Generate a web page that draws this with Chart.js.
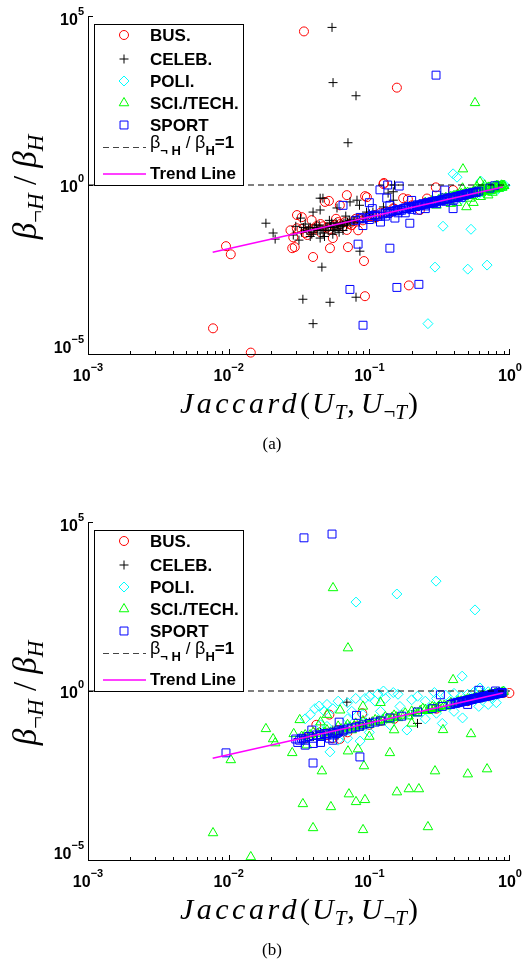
<!DOCTYPE html>
<html>
<head>
<meta charset="utf-8">
<script src="https://cdn.jsdelivr.net/npm/chart.js@4/dist/chart.umd.min.js"></script>
<style>
html, body { margin: 0; padding: 0; background: #fff; }
#wrap { position: relative; width: 528px; height: 967px; }
canvas { position: absolute; left: 0; }
#chart-a { top: 0; }
#chart-b { top: 506px; }
</style>
</head>
<body>
<div id="wrap">
  <canvas id="chart-a" width="528" height="461"></canvas>
  <canvas id="chart-b" width="528" height="461"></canvas>
</div>
<script>
// axes
const xTicks = [1e-3, 1e-2, 1e-1, 1]
const xTickExp = ["\u22123", "\u22122", "\u22121", "0"]
const yTicks = [1e-5, 1, 1e5]
const yTickExp = ["\u22125", "0", "5"]

const seriesNames = ["BUS.", "CELEB.", "POLI.", "SCI./TECH.", "SPORT"]
const seriesColors = ["#ff0000", "#000000", "#00ffff", "#00ff00", "#0000ff"]
const markerStyles = ["circle", "cross", "rectRot", "triangle", "rect"]
const markerRadius = [4.5, 4.5, 5, 5.5, 5.6]

// trend line and reference line
const trendX = [0.0077, 0.89]
const trendY = [0.0102, 0.87]
const refY = 1

// (a) points [jaccard, ratio]
const busA = [
    [0.0343, 3.5e4], [0.157, 759], [0.127, 1.15], [0.00957, 0.0155], [0.01035, 0.0089], [0.00774, 5.75e-5],
    [0.01436, 1.1e-5], [0.0283, 0.0135], [0.0398, 0.00741], [0.0525, 0.0135], [0.0705, 0.0145], [0.0916, 0.00562],
    [0.0931, 0.000513], [0.191, 0.00107], [0.0306, 0.129], [0.0692, 0.501], [0.0933, 0.468], [0.126, 1.07],
    [0.0617, 0.251], [0.0484, 0.316], [0.297, 0.851], [0.174, 0.407], [0.0389, 0.0912], [0.0275, 0.0457],
    [0.0288, 0.0282], [0.0363, 0.0331], [0.055, 0.0269], [0.0692, 0.0468], [0.0832, 0.0457], [0.112, 0.112],
    [0.148, 0.204], [0.229, 0.182], [0.257, 0.398], [0.394, 0.708], [0.0961, 0.437], [0.0516, 0.339],
    [0.0331, 0.112], [0.0295, 0.0145], [0.188, 0.38], [0.0305, 0.0525], [0.04, 0.05], [0.045, 0.07],
    [0.05, 0.055], [0.06, 0.08], [0.065, 0.06], [0.08, 0.1], [0.1, 0.12], [0.12, 0.15], [0.15, 0.2],
    [0.2, 0.25], [0.25, 0.3], [0.35, 0.4], [0.045, 0.04], [0.058, 0.1], [0.035, 0.038], [0.075, 0.065],
    [0.033, 0.05], [0.038, 0.045], [0.042, 0.06], [0.047, 0.06], [0.052, 0.05], [0.057, 0.065], [0.062, 0.07],
    [0.067, 0.08], [0.072, 0.07], [0.077, 0.085], [0.085, 0.1], [0.09, 0.09], [0.095, 0.11], [0.105, 0.12],
    [0.11, 0.13], [0.13, 0.16], [0.14, 0.15], [0.16, 0.18], [0.18, 0.21], [0.22, 0.24], [0.27, 0.3], [0.3, 0.33]
]
const celebA = [
    [0.0543, 4.6e4], [0.0552, 1070], [0.0804, 437], [0.0705, 17.8], [0.0184, 0.0741], [0.0207, 0.038],
    [0.0214, 0.0251], [0.046, 0.00372], [0.0337, 0.000417], [0.0525, 0.000339], [0.0398, 7.9e-5],
    [0.0804, 0.000479], [0.0857, 0.011], [0.0468, 0.407], [0.0817, 0.355], [0.0589, 0.209], [0.0447, 0.182],
    [0.148, 0.631], [0.151, 1.0], [0.136, 0.575], [0.0447, 0.407], [0.0729, 0.316], [0.0851, 0.251],
    [0.0398, 0.158], [0.0324, 0.105], [0.0955, 0.158], [0.038, 0.0562], [0.0447, 0.0457], [0.0288, 0.0331],
    [0.0316, 0.0234], [0.0447, 0.0269], [0.055, 0.0468], [0.0646, 0.0646], [0.0766, 0.0912], [0.106, 0.158],
    [0.126, 0.224], [0.148, 0.355], [0.035, 0.07], [0.04, 0.04], [0.05, 0.06], [0.055, 0.035], [0.06, 0.05],
    [0.07, 0.08], [0.042, 0.065], [0.036, 0.045], [0.048, 0.03], [0.065, 0.045], [0.09, 0.1], [0.1, 0.14],
    [0.03, 0.06], [0.058, 0.075], [0.068, 0.12], [0.052, 0.09], [0.11, 0.1],
    [0.033, 0.04], [0.037, 0.05], [0.039, 0.035], [0.041, 0.055], [0.043, 0.045], [0.046, 0.05], [0.047, 0.038],
    [0.049, 0.055], [0.051, 0.045], [0.053, 0.06], [0.056, 0.055], [0.057, 0.045], [0.059, 0.065], [0.062, 0.06],
    [0.063, 0.07], [0.066, 0.075], [0.069, 0.065], [0.072, 0.09], [0.074, 0.075], [0.078, 0.085], [0.082, 0.095],
    [0.085, 0.08], [0.034, 0.055], [0.038, 0.03], [0.044, 0.065], [0.054, 0.075], [0.061, 0.04]
]
const poliA = [
    [0.394, 2.14], [0.334, 0.0603], [0.528, 0.049], [0.293, 0.00372], [0.501, 0.00324], [0.687, 0.00427],
    [0.261, 7.9e-5], [0.85, 0.95], [0.8, 0.85], [0.9, 0.9], [0.75, 0.72], [0.7, 0.8], [0.6, 0.55],
    [0.55, 0.62], [0.65, 0.6], [0.82, 0.75], [0.88, 1.0], [0.5, 0.5], [0.45, 0.38], [0.42, 1.7],
    [0.62, 1.3], [0.78, 0.95], [0.72, 0.68], [0.92, 0.97]
]
const sciA = [
    [0.564, 269], [0.463, 2.95], [0.612, 1.23], [0.25, 0.3], [0.28, 0.35], [0.3, 0.32], [0.32, 0.38],
    [0.35, 0.42], [0.36, 0.33], [0.38, 0.45], [0.4, 0.4], [0.42, 0.5], [0.44, 0.47], [0.45, 0.55],
    [0.47, 0.45], [0.48, 0.6], [0.5, 0.52], [0.52, 0.58], [0.53, 0.48], [0.55, 0.65], [0.57, 0.56],
    [0.58, 0.7], [0.6, 0.62], [0.62, 0.58], [0.63, 0.75], [0.65, 0.68], [0.67, 0.64], [0.68, 0.8],
    [0.7, 0.72], [0.72, 0.85], [0.73, 0.68], [0.75, 0.78], [0.77, 0.9], [0.78, 0.74], [0.8, 0.82],
    [0.82, 0.95], [0.83, 0.78], [0.85, 0.88], [0.87, 0.98], [0.88, 0.84], [0.9, 0.93], [0.49, 0.224],
    [0.55, 0.3], [0.62, 0.45], [0.7, 0.5], [0.46, 0.8], [0.58, 0.9], [0.66, 0.98], [0.42, 0.3],
    [0.38, 0.28], [0.3, 0.25], [0.52, 0.4], [0.75, 0.6],
    [0.31, 0.36], [0.33, 0.4], [0.37, 0.43], [0.39, 0.44], [0.41, 0.47], [0.43, 0.49], [0.46, 0.52],
    [0.49, 0.55], [0.51, 0.54], [0.54, 0.6], [0.56, 0.62], [0.59, 0.65], [0.61, 0.66], [0.64, 0.7],
    [0.66, 0.72], [0.69, 0.75], [0.71, 0.76], [0.74, 0.8], [0.76, 0.82], [0.79, 0.86], [0.81, 0.86],
    [0.84, 0.9], [0.86, 0.92], [0.89, 0.96], [0.91, 0.95], [0.6, 0.7], [0.7, 0.85], [0.8, 0.95],
    [0.5, 0.6], [0.4, 0.48]
]
const sportA = [
    [0.298, 1780], [0.135, 1.0], [0.0832, 0.0178], [0.14, 0.0135], [0.0728, 0.000813], [0.157, 0.000933],
    [0.225, 0.00115], [0.0902, 7.1e-5], [0.08, 0.09], [0.09, 0.1], [0.1, 0.11], [0.11, 0.13], [0.12, 0.12],
    [0.13, 0.15], [0.14, 0.16], [0.15, 0.17], [0.16, 0.19], [0.17, 0.18], [0.18, 0.21], [0.19, 0.23],
    [0.2, 0.22], [0.21, 0.24], [0.22, 0.26], [0.23, 0.25], [0.24, 0.28], [0.25, 0.27], [0.26, 0.3],
    [0.27, 0.29], [0.28, 0.32], [0.29, 0.31], [0.3, 0.34], [0.32, 0.35], [0.33, 0.37], [0.35, 0.38],
    [0.37, 0.4], [0.38, 0.42], [0.4, 0.43], [0.42, 0.46], [0.44, 0.48], [0.46, 0.5], [0.48, 0.52],
    [0.5, 0.55], [0.52, 0.57], [0.55, 0.6], [0.58, 0.63], [0.6, 0.66], [0.78, 0.95], [0.119, 0.72],
    [0.163, 0.93], [0.133, 0.41], [0.344, 0.71], [0.086, 0.11], [0.194, 0.074], [0.152, 0.105],
    [0.394, 0.2], [0.105, 0.2], [0.14, 0.25], [0.2, 0.35], [0.25, 0.2], [0.3, 0.5], [0.12, 0.08],
    [0.18, 0.15], [0.09, 0.063], [0.22, 0.18], [0.065, 0.25], [0.1, 0.3], [0.72, 0.81],
    [0.105, 0.125], [0.115, 0.118], [0.125, 0.14], [0.135, 0.145], [0.145, 0.165], [0.155, 0.175],
    [0.165, 0.18], [0.175, 0.2], [0.185, 0.2], [0.195, 0.215], [0.205, 0.23], [0.215, 0.23], [0.225, 0.25],
    [0.235, 0.26], [0.245, 0.27], [0.255, 0.29], [0.265, 0.28], [0.275, 0.31], [0.285, 0.3], [0.295, 0.33],
    [0.31, 0.34], [0.325, 0.34], [0.34, 0.37], [0.36, 0.39], [0.39, 0.42], [0.41, 0.44], [0.43, 0.45],
    [0.45, 0.49], [0.47, 0.5], [0.49, 0.53], [0.51, 0.55], [0.54, 0.58], [0.57, 0.6], [0.1, 0.095],
    [0.13, 0.12], [0.16, 0.15], [0.2, 0.19], [0.25, 0.24], [0.3, 0.28], [0.35, 0.33], [0.4, 0.38], [0.45, 0.43]
]

// (b) points
const busB = [
    [0.089, 0.22], [0.0617, 0.038], [0.99, 0.87], [0.05, 0.05], [0.06, 0.07], [0.07, 0.06], [0.08, 0.09],
    [0.1, 0.1], [0.12, 0.13], [0.045, 0.05], [0.055, 0.04], [0.035, 0.04], [0.15, 0.15], [0.3, 0.3],
    [0.5, 0.5], [0.7, 0.7], [0.9, 0.88], [0.042, 0.1], [0.052, 0.2]
]
const celebB = [
    [0.0692, 0.468], [0.05, 0.06], [0.06, 0.05], [0.07, 0.08], [0.04, 0.045], [0.08, 0.08], [0.1, 0.12],
    [0.2, 0.2], [0.055, 0.07], [0.045, 0.06], [0.035, 0.04], [0.09, 0.09], [0.22, 0.11]
]
const poliB = [
    [0.0804, 427], [0.157, 741], [0.298, 1780], [0.564, 251], [0.457, 2.75], [0.612, 1.23], [0.126, 1.0],
    [0.148, 0.9], [0.115, 0.82], [0.093, 0.6], [0.044, 0.36], [0.048, 0.25], [0.041, 0.3], [0.0525, 0.0158],
    [0.086, 0.033], [0.185, 0.07], [0.33, 0.11], [0.46, 0.16], [0.8, 0.45], [0.6, 1.0], [0.29, 0.9],
    [0.165, 0.35], [0.194, 0.2], [0.035, 0.15], [0.038, 0.2], [0.05, 0.4], [0.055, 0.3], [0.06, 0.5],
    [0.07, 0.45], [0.075, 0.25], [0.08, 0.6], [0.1, 0.7], [0.11, 0.5], [0.13, 0.6], [0.16, 0.8],
    [0.2, 0.55], [0.22, 0.7], [0.25, 0.5], [0.3, 0.6], [0.35, 0.75], [0.4, 0.85], [0.45, 0.7], [0.5, 0.8],
    [0.55, 0.9], [0.65, 0.85], [0.7, 0.95], [0.75, 0.6], [0.85, 0.9], [0.9, 1.0], [0.05, 0.09],
    [0.06, 0.035], [0.07, 0.04], [0.1, 0.06], [0.14, 0.1], [0.25, 0.15], [0.4, 0.25], [0.6, 0.35],
    [0.7, 0.4], [0.045, 0.1], [0.09, 0.2], [0.12, 0.25], [0.07, 0.15], [0.3, 0.22]
]
const sciB = [
    [0.0552, 1120], [0.0705, 18.6], [0.394, 2.14], [0.0184, 0.0759], [0.0207, 0.038], [0.0214, 0.0288],
    [0.01035, 0.00912], [0.00774, 6.3e-5], [0.01436, 1.23e-5], [0.0283, 0.0148], [0.0705, 0.0166],
    [0.0916, 0.00603], [0.0931, 0.000603], [0.191, 0.00126], [0.046, 0.00427], [0.0337, 0.000457],
    [0.0533, 0.000372], [0.0398, 8.9e-5], [0.0804, 0.000525], [0.083, 0.0191], [0.14, 0.0148],
    [0.0716, 0.000891], [0.157, 0.00102], [0.225, 0.00126], [0.0902, 7.8e-5], [0.334, 0.0708],
    [0.528, 0.0537], [0.293, 0.00427], [0.501, 0.00347], [0.687, 0.0049], [0.261, 9.5e-5],
    [0.032, 0.14], [0.029, 0.054], [0.035, 0.05], [0.04, 0.06], [0.045, 0.045], [0.05, 0.07], [0.055, 0.05],
    [0.06, 0.09], [0.065, 0.065], [0.07, 0.1], [0.075, 0.07], [0.08, 0.11], [0.085, 0.085], [0.09, 0.13],
    [0.1, 0.1], [0.11, 0.14], [0.12, 0.12], [0.13, 0.17], [0.14, 0.14], [0.15, 0.19], [0.16, 0.16],
    [0.18, 0.22], [0.19, 0.18], [0.2, 0.25], [0.22, 0.22], [0.24, 0.3], [0.26, 0.26], [0.28, 0.34],
    [0.3, 0.3], [0.32, 0.38], [0.35, 0.35], [0.38, 0.45], [0.4, 0.4], [0.43, 0.5], [0.46, 0.45],
    [0.5, 0.58], [0.53, 0.52], [0.56, 0.64], [0.6, 0.58], [0.64, 0.7], [0.68, 0.65], [0.72, 0.8],
    [0.76, 0.74], [0.8, 0.88], [0.85, 0.82], [0.9, 0.95], [0.05, 0.2], [0.062, 0.27], [0.09, 0.35],
    [0.12, 0.45], [0.1, 0.045], [0.15, 0.07], [0.2, 0.11], [0.036, 0.025], [0.045, 0.12],
    [0.033, 0.045], [0.038, 0.05], [0.043, 0.055], [0.048, 0.06], [0.053, 0.06], [0.058, 0.07],
    [0.063, 0.075], [0.068, 0.08], [0.073, 0.085], [0.078, 0.09], [0.088, 0.1], [0.095, 0.11],
    [0.105, 0.12], [0.115, 0.13], [0.125, 0.14], [0.135, 0.15], [0.145, 0.165], [0.155, 0.17],
    [0.17, 0.19], [0.21, 0.23], [0.23, 0.26], [0.25, 0.28], [0.27, 0.3], [0.29, 0.32], [0.31, 0.34],
    [0.34, 0.37], [0.37, 0.4], [0.42, 0.46], [0.45, 0.5], [0.48, 0.53], [0.52, 0.56], [0.55, 0.6],
    [0.58, 0.63], [0.62, 0.67], [0.66, 0.72], [0.7, 0.75], [0.74, 0.8], [0.78, 0.84], [0.83, 0.88], [0.88, 0.92]
]
const sportB = [
    [0.0343, 3.4e4], [0.0543, 4.4e4], [0.00957, 0.0148], [0.0398, 0.00741], [0.0857, 0.0112], [0.061, 0.12],
    [0.081, 0.19], [0.039, 0.07], [0.32, 0.77], [0.5, 0.4], [0.6, 1.05], [0.79, 1.0], [0.03, 0.038],
    [0.031, 0.03], [0.033, 0.04], [0.035, 0.035], [0.037, 0.045], [0.04, 0.04], [0.042, 0.05],
    [0.045, 0.045], [0.048, 0.055], [0.05, 0.05], [0.052, 0.04], [0.055, 0.06], [0.058, 0.055],
    [0.06, 0.065], [0.065, 0.07], [0.07, 0.075], [0.075, 0.08], [0.08, 0.085], [0.085, 0.09], [0.09, 0.1],
    [0.1, 0.11], [0.11, 0.12], [0.12, 0.13], [0.14, 0.16], [0.17, 0.18], [0.22, 0.24], [0.28, 0.3],
    [0.33, 0.35], [0.38, 0.4],
    [0.4, 0.44], [0.42, 0.45], [0.45, 0.48], [0.48, 0.5], [0.5, 0.53], [0.53, 0.56], [0.56, 0.6],
    [0.6, 0.62], [0.63, 0.66], [0.66, 0.7], [0.7, 0.72], [0.73, 0.76], [0.76, 0.8], [0.8, 0.82],
    [0.83, 0.86], [0.86, 0.88], [0.045, 0.03], [0.055, 0.035], [0.035, 0.025], [0.04, 0.028],
    [0.41, 0.43], [0.43, 0.46], [0.44, 0.47], [0.46, 0.49], [0.47, 0.5], [0.49, 0.52], [0.51, 0.54],
    [0.52, 0.55], [0.54, 0.57], [0.55, 0.59], [0.57, 0.6], [0.58, 0.61], [0.59, 0.63], [0.61, 0.64],
    [0.62, 0.66], [0.64, 0.67], [0.65, 0.69], [0.67, 0.7], [0.68, 0.71], [0.69, 0.73], [0.71, 0.74],
    [0.72, 0.75], [0.74, 0.78], [0.75, 0.78], [0.77, 0.8], [0.78, 0.82], [0.79, 0.82], [0.81, 0.84],
    [0.82, 0.85], [0.84, 0.87], [0.85, 0.87], [0.87, 0.9], [0.88, 0.9], [0.045, 0.05], [0.05, 0.055],
    [0.055, 0.05], [0.06, 0.06], [0.065, 0.065], [0.032, 0.035], [0.034, 0.038]
]

const SANS = '"Liberation Sans", Arial, sans-serif'
const SERIF = '"Liberation Serif", "Times New Roman", serif'

function drawRich(ctx, parts, x, y, align) {
    let w = 0
    for (const p of parts) {
        ctx.font = p.font
        ctx.letterSpacing = p.ls || "0px"
        w += ctx.measureText(p.text).width
    }
    let cx = align === "center" ? x - w / 2 : align === "right" ? x - w : x
    for (const p of parts) {
        ctx.font = p.font
        ctx.letterSpacing = p.ls || "0px"
        ctx.fillText(p.text, cx, y + (p.dy || 0))
        cx += ctx.measureText(p.text).width
    }
    ctx.letterSpacing = "0px"
}

function drawMarker(ctx, style, x, y, r, color) {
    ctx.save()
    ctx.strokeStyle = color
    ctx.lineWidth = 1
    ctx.beginPath()
    if (style === "circle") {
        ctx.arc(x, y, r, 0, Math.PI * 2)
    } else if (style === "cross") {
        ctx.moveTo(x, y - r); ctx.lineTo(x, y + r)
        ctx.moveTo(x - r, y); ctx.lineTo(x + r, y)
    } else if (style === "rectRot") {
        ctx.moveTo(x, y - r); ctx.lineTo(x + r, y); ctx.lineTo(x, y + r); ctx.lineTo(x - r, y); ctx.closePath()
    } else if (style === "triangle") {
        for (let k = 0; k < 3; k++) {
            const a = k * 2 * Math.PI / 3
            const px = x + Math.sin(a) * r, py = y - Math.cos(a) * r
            if (k === 0) ctx.moveTo(px, py); else ctx.lineTo(px, py)
        }
        ctx.closePath()
    } else {
        const s = Math.SQRT1_2 * r
        ctx.rect(x - s, y - s, 2 * s, 2 * s)
    }
    ctx.stroke()
    ctx.restore()
}

function decorPlugin(caption) {
    return {
        id: "decor",
        afterDraw(chart) {
            const ctx = chart.ctx
            const ca = chart.chartArea
            const xs = chart.scales.x
            const ys = chart.scales.y
            ctx.save()
            ctx.strokeStyle = "#000"
            ctx.fillStyle = "#000"
            ctx.lineWidth = 1

            // axes lines
            ctx.beginPath()
            ctx.moveTo(ca.left + 0.5, ca.top)
            ctx.lineTo(ca.left + 0.5, ca.bottom + 0.5)
            ctx.lineTo(ca.right, ca.bottom + 0.5)
            ctx.stroke()

            // x ticks (major + minor)
            ctx.beginPath()
            for (let d = -3; d < 0; d++) {
                for (let m = 1; m <= 9; m++) {
                    const px = Math.round(xs.getPixelForValue(m * Math.pow(10, d))) + 0.5
                    const len = m === 1 ? 5 : 3
                    ctx.moveTo(px, ca.bottom)
                    ctx.lineTo(px, ca.bottom - len)
                }
            }
            const pxEnd = Math.round(xs.getPixelForValue(1)) - 0.5
            ctx.moveTo(pxEnd, ca.bottom)
            ctx.lineTo(pxEnd, ca.bottom - 5)
            // y ticks
            for (const v of yTicks) {
                const py = Math.round(ys.getPixelForValue(v)) + 0.5
                ctx.moveTo(ca.left, py)
                ctx.lineTo(ca.left + 5, py)
            }
            ctx.stroke()

            // tick labels
            ctx.textBaseline = "alphabetic"
            xTicks.forEach((v, i) => {
                const px = xs.getPixelForValue(v)
                drawRich(ctx, [
                    { text: "10", font: "bold 16px " + SANS },
                    { text: xTickExp[i], font: "bold 11px " + SANS, dy: -10 }
                ], px, ca.bottom + 27, "center")
            })
            const yOff = [-1, 6.5, 9]
            yTicks.forEach((v, i) => {
                const py = ys.getPixelForValue(v)
                drawRich(ctx, [
                    { text: "10", font: "bold 16px " + SANS },
                    { text: yTickExp[i], font: "bold 11px " + SANS, dy: -10 }
                ], ca.left - 4, py + yOff[i], "right")
            })

            // x title
            const big = "italic 30px " + SERIF
            const bigUp = "30px " + SERIF
            const sub = "italic 21px " + SERIF
            const subUp = "21px " + SERIF
            drawRich(ctx, [
                { text: "Jaccard", font: big, ls: "3.5px" },
                { text: "(", font: bigUp, ls: "2px" },
                { text: "U", font: big, ls: "1px" },
                { text: "T", font: sub, dy: 6, ls: "1px" },
                { text: ",", font: bigUp, ls: "6px" },
                { text: "U", font: big, ls: "1px" },
                { text: "\u00ac", font: subUp, dy: 6 },
                { text: "T", font: sub, dy: 6, ls: "1px" },
                { text: ")", font: bigUp }
            ], (ca.left + ca.right) / 2, ca.bottom + 59, "center")

            // y title
            ctx.save()
            ctx.translate(36, (ca.top + ca.bottom) / 2 + 2)
            ctx.rotate(-Math.PI / 2)
            const yb = "italic 33px " + SERIF
            const ys2 = "italic 23px " + SERIF
            drawRich(ctx, [
                { text: "\u03b2", font: yb },
                { text: "\u00ac", font: "23px " + SERIF, dy: 7 },
                { text: "H", font: ys2, dy: 7 },
                { text: " / ", font: "33px " + SERIF },
                { text: "\u03b2", font: yb },
                { text: "H", font: ys2, dy: 7 }
            ], 0, 0, "center")
            ctx.restore()

            // caption
            ctx.font = "17px " + SERIF
            ctx.textAlign = "center"
            ctx.fillText(caption, 272, ca.bottom + 95)
            ctx.textAlign = "left"

            // legend box
            const lx = ca.left + 6
            const ly = ca.top + 8
            const lw = 149
            const lh = Math.round(ys.getPixelForValue(refY)) - ly
            ctx.fillStyle = "#fff"
            ctx.fillRect(lx, ly, lw, lh)
            ctx.strokeStyle = "#000"
            ctx.strokeRect(lx + 0.5, ly + 0.5, lw, lh)
            ctx.fillStyle = "#000"
            const rowY = [11, 35, 57, 79, 101]
            ctx.textBaseline = "middle"
            seriesNames.forEach((name, i) => {
                drawMarker(ctx, markerStyles[i], lx + 30, ly + rowY[i], markerRadius[i], seriesColors[i])
                ctx.font = "bold 17px " + SANS
                ctx.fillStyle = "#000"
                ctx.fillText(name, lx + 56, ly + rowY[i] + 1)
            })
            ctx.textBaseline = "alphabetic"
            // dashed entry
            ctx.save()
            ctx.strokeStyle = "#444"
            ctx.setLineDash([6, 4])
            ctx.beginPath()
            ctx.moveTo(lx + 9, ly + 123.5)
            ctx.lineTo(lx + 52, ly + 123.5)
            ctx.stroke()
            ctx.restore()
            drawRich(ctx, [
                { text: "\u03b2", font: "18px " + SANS },
                { text: "\u00ac H", font: "bold 13px " + SANS, dy: 7 },
                { text: " / ", font: "17px " + SANS },
                { text: "\u03b2", font: "18px " + SANS },
                { text: "H", font: "bold 13px " + SANS, dy: 7 },
                { text: "=1", font: "bold 17px " + SANS }
            ], lx + 56, ly + 124, "left")
            // trend entry
            ctx.strokeStyle = "#ff00ff"
            ctx.lineWidth = 1.5
            ctx.beginPath()
            ctx.moveTo(lx + 9, ly + 150)
            ctx.lineTo(lx + 52, ly + 150)
            ctx.stroke()
            ctx.font = "bold 17px " + SANS
            ctx.textBaseline = "middle"
            ctx.fillText("Trend Line", lx + 56, ly + 150)
            ctx.restore()
        }
    }
}

function makeChart(canvasId, groups, caption) {
    const datasets = groups.map((pts, i) => ({
        type: "scatter",
        label: seriesNames[i],
        data: pts.map((p) => ({ x: p[0], y: p[1] })),
        pointStyle: markerStyles[i],
        pointRadius: markerRadius[i],
        pointBorderColor: seriesColors[i],
        pointBackgroundColor: "rgba(0,0,0,0)",
        pointBorderWidth: 1,
        order: 7 - i,
        clip: false
    }))
    datasets.push({
        type: "line",
        label: "ref",
        data: [{ x: xTicks[0], y: refY }, { x: xTicks[xTicks.length - 1], y: refY }],
        borderColor: "#000",
        borderWidth: 1,
        borderDash: [6, 4],
        pointRadius: 0,
        showLine: true,
        order: 1
    })
    datasets.push({
        type: "line",
        label: "Trend Line",
        data: trendX.map((x, i) => ({ x, y: trendY[i] })),
        borderColor: "#ff00ff",
        borderWidth: 1.6,
        pointRadius: 0,
        showLine: true,
        order: 0
    })

    const ctx = document.getElementById(canvasId).getContext("2d")
    return new Chart(ctx, {
        type: "scatter",
        data: { datasets },
        options: {
            responsive: false,
            animation: false,
            events: [],
            layout: { padding: { left: 88, right: 18, top: 16, bottom: 107 } },
            plugins: { legend: { display: false }, tooltip: { enabled: false } },
            scales: {
                x: { type: "logarithmic", min: 1e-3, max: 1, display: false },
                y: { type: "logarithmic", min: 1e-5, max: 1e5, display: false }
            }
        },
        plugins: [decorPlugin(caption)]
    })
}

makeChart("chart-a", [busA, celebA, poliA, sciA, sportA], "(a)")
makeChart("chart-b", [busB, celebB, poliB, sciB, sportB], "(b)")
</script>
</body>
</html>
